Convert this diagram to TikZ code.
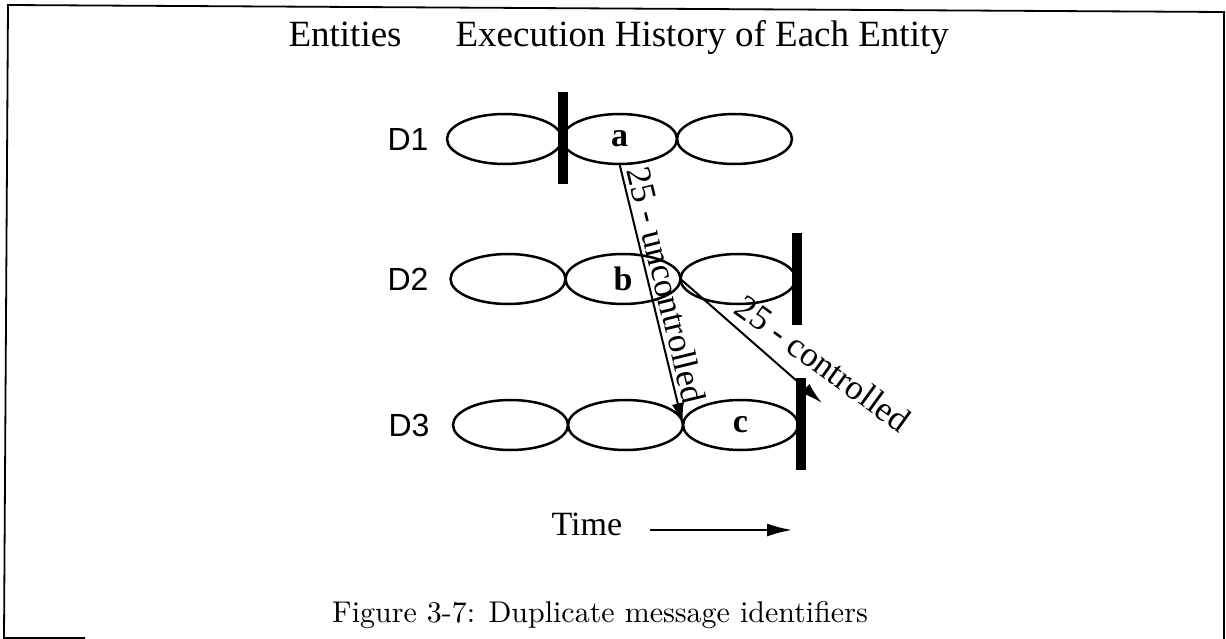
\documentclass[tikz,border=0pt]{standalone}
\usepackage{fontspec}
\newfontfamily\timesfont{Liberation Serif}
\newfontfamily\helvfont{Liberation Sans}
\usetikzlibrary{positioning,arrows.meta,shapes.geometric}
\tikzset{
  run/.style={ellipse, draw, line width=2.5pt, minimum width=115pt, minimum height=50pt,
    inner sep=0pt, outer sep=0pt, font=\timesfont\bfseries\fontsize{34}{40}\selectfont},
  entity/.style={font=\helvfont\fontsize{32}{38}\selectfont},
  heading/.style={anchor=base west, font=\timesfont\fontsize{37}{44}\selectfont},
  cut/.style={fill=black, minimum width=10pt, minimum height=92pt, inner sep=0pt},
  msg/.style={-{Latex[length=22pt,width=12pt]}, line width=2pt},
  msglabel/.style={inner sep=4pt, font=\timesfont\fontsize{35}{42}\selectfont},
}
\begin{document}
\begin{tikzpicture}[x=1pt,y=-1pt]
		\useasboundingbox (0,0) rectangle (1226,639);
		\draw[line width=1.8pt] (85,638) -- (4,638) -- (8,5) -- (1224,12) -- (1224,639);%frame
		
		\node[heading] (enthead) at (285,47) {Entities};
		\node[heading] (histhead) at (452,47) {Execution History of Each Entity};
		
		\node[entity] (lab1) at (408,139) {D1};
		\node[entity] (lab2) at (408,279) {D2};
		\node[entity] (lab3) at (409,425) {D3};
		
		\node[run] (d1e1) at (504.5,139) {};%first entity
		\node[run, right=0pt of d1e1] (d1e2) {a};
		\node[run, right=0pt of d1e2] (d1e3) {};
		
		\node[run] (d2e1) at (508,279) {};%second entity
		\node[run, right=0pt of d2e1] (d2e2) {b};
		\node[run, right=0pt of d2e2] (d2e3) {};
		
		\node[run] (d3e1) at (510.5,425) {};%third entity
		\node[run, right=0pt of d3e1] (d3e2) {};
		\node[run, right=0pt of d3e2] (d3e3) {c};
		
		\coordinate (ctrlend) at (822,403);
		\draw[msg] (d1e2.south) -- (d3e2.east) node[msglabel, sloped, above, pos=0.48] {25 - uncontrolled};
		\draw[msg] (d2e2.east) -- (ctrlend) node[msglabel, pos=0.31, anchor=base west, rotate=-36, inner sep=0pt, xshift=3pt, yshift=9pt] {25 - controlled};
		
		\node[cut] (cut1) at (563,138.5) {};%checkpoints
		\node[cut] (cut2) at (797,279) {};
		\node[cut] (cut3) at (801,423.5) {};
		
		\node[anchor=base west, font=\timesfont\fontsize{34}{40}\selectfont] (time) at (548,535) {Time};
		\coordinate (timestart) at (650,530);
		\coordinate (timeend) at (792,530);
		\draw[-{Latex[length=25pt,width=13pt]}, line width=2pt] (timestart) -- (timeend);
		
		\node[anchor=base] (caption) at (600,622) {\scalebox{3.0}{Figure 3-7: Duplicate message identifiers}};
\end{tikzpicture}
\end{document}
